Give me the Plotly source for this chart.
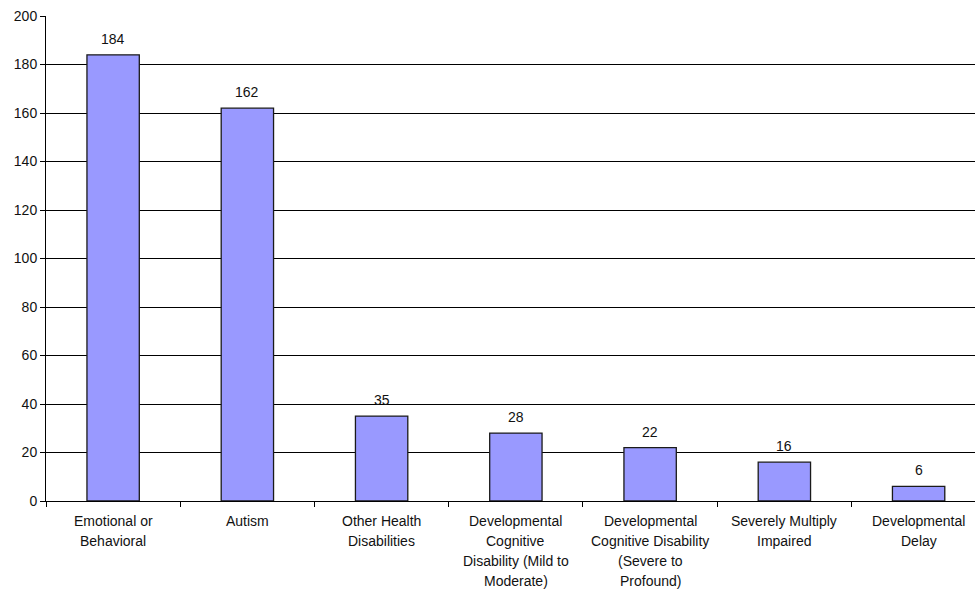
import plotly.graph_objects as go

categories = [
    "Emotional or<br>Behavioral",
    "Autism",
    "Other Health<br>Disabilities",
    "Developmental<br>Cognitive<br>Disability (Mild to<br>Moderate)",
    "Developmental<br>Cognitive Disability<br>(Severe to<br>Profound)",
    "Severely Multiply<br>Impaired",
    "Developmental<br>Delay",
]
counts = [184, 162, 35, 28, 22, 16, 6]
y_ticks = [0, 20, 40, 60, 80, 100, 120, 140, 160, 180, 200]

font_family = "Liberation Sans, Arial, sans-serif"
font_size = 14

fig = go.Figure(
    go.Bar(
        x=list(range(len(categories))),
        y=counts,
        width=0.39,
        marker=dict(color="#9999FF", line=dict(color="#1a1a1a", width=1.3)),
        hovertext=[c.replace("<br>", " ") for c in categories],
        hoverinfo="text+y",
    )
)

# value labels above each bar
for i, v in enumerate(counts):
    fig.add_annotation(
        x=i, y=v, text=str(v), showarrow=False, yshift=16,
        font=dict(family=font_family, size=font_size, color="#111111"),
    )

# category labels, one line per annotation for wider line spacing
for i, c in enumerate(categories):
    for j, line in enumerate(c.split("<br>")):
        fig.add_annotation(
            x=i, y=0, yref="paper", text=line, showarrow=False,
            yanchor="middle", yshift=-20 * (j + 1),
            font=dict(family=font_family, size=font_size, color="#111111"),
        )

fig.update_layout(
    width=975,
    height=589,
    margin=dict(l=46, r=0, t=16, b=88),
    paper_bgcolor="white",
    plot_bgcolor="white",
    showlegend=False,
    font=dict(family=font_family, size=font_size, color="#111111"),
)

fig.update_xaxes(
    range=[-0.5, 6.42],
    tickvals=[i + 0.5 for i in range(-1, len(categories))],
    showticklabels=False,
    showline=True, linecolor="black", linewidth=1,
    ticks="outside", ticklen=5, tickcolor="black",
    showgrid=False, zeroline=False,
)
fig.update_yaxes(
    range=[0, 200],
    tickvals=y_ticks,
    showline=True, linecolor="black", linewidth=1,
    ticks="outside", ticklen=5, tickcolor="black",
    showgrid=True, gridcolor="black", gridwidth=1,
    zeroline=False,
    tickfont=dict(size=font_size),
)

fig.write_html("out.html")
